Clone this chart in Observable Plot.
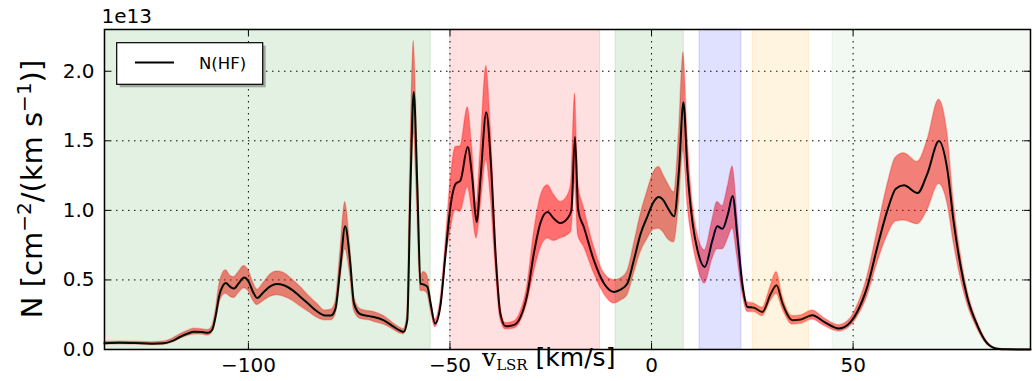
<!DOCTYPE html>
<html>
<head>
<meta charset="utf-8">
<script src="https://cdn.jsdelivr.net/npm/d3@7"></script>
<script src="https://cdn.jsdelivr.net/npm/@observablehq/plot@0.6"></script>
<style>
  body { margin: 0; background: #fff; }
  svg { display: block; }
</style>
</head>
<body>
<div id="chart"></div>
<script>
// HF column density per velocity channel (units of 1e13 cm^-2 / (km s^-1))
const velocity = [
  -135.7, -132, -128, -124, -121, -119, -117, -115, -113.5, -111.5, -110, -109, -108, -107.3, -106.3,
  -105.6, -104.5, -103.6, -102.3, -101.1, -100, -98.8, -97.8, -96.2, -94.5, -93, -91.2, -89, -87.1,
  -85, -83, -81, -79.5, -78.4, -77.2, -76, -74.8, -73.8, -72.2, -70, -68.9, -66.4, -63.9, -62.3,
  -61.5, -60.6, -59.8, -59, -58.1, -57.3, -56.5, -55.6, -54.8, -53.7, -52.3, -51.1, -49.9, -48.6,
  -47.4, -45.6, -44.5, -43.4, -42.4, -41, -39.9, -38.7, -37.5, -36.2, -34.2, -32.5, -30.8, -29.2,
  -27.5, -25.8, -24.2, -22.6, -20.9, -19.9, -19, -18.2, -16.8, -14.3, -11.8, -9.3, -7.7, -6, -4.4,
  -2.7, -1.1, 0.5, 1.8, 3, 3.9, 5.6, 6.8, 7.9, 8.9, 10.2, 11.4, 13.2, 15.1, 16.3, 17.6, 19, 20.1,
  21.3, 22.5, 23.8, 25.4, 27.5, 29.6, 31, 32.5, 35, 37, 39.9, 42.8, 46.5, 49.4, 51, 53.5, 56, 58.5,
  60.6, 62.6, 66, 68.4, 71.3, 73.4, 75, 76.7, 78.3, 80.8, 83.3, 85.8, 88, 94
];
const column = [
  0.045, 0.048, 0.046, 0.042, 0.045, 0.06, 0.09, 0.115, 0.127, 0.125, 0.12, 0.14, 0.26, 0.38, 0.46,
  0.478, 0.45, 0.438, 0.48, 0.517, 0.49, 0.41, 0.37, 0.414, 0.455, 0.47, 0.462, 0.425, 0.378,
  0.325, 0.275, 0.245, 0.245, 0.294, 0.593, 0.885, 0.641, 0.33, 0.253, 0.24, 0.234, 0.21, 0.162, 0.135,
  0.127, 0.21, 1.17, 1.85, 1.17, 0.474, 0.467, 0.45, 0.33, 0.187, 0.33, 0.689, 1.024, 1.19,
  1.215, 1.455, 1.24, 0.916, 1.24, 1.706, 1.36, 0.69, 0.258, 0.167, 0.175, 0.234, 0.4, 0.69,
  0.916, 0.988, 0.94, 0.909, 0.94, 1.0, 1.527, 1.0, 0.88, 0.64, 0.474, 0.414, 0.43, 0.474, 0.641,
  0.833, 0.952, 1.06, 1.096, 1.07, 1.024, 0.957, 1.287, 1.778, 1.29, 0.904, 0.713, 0.593, 0.785, 0.885, 0.868, 0.98, 1.103,
  0.809, 0.474, 0.306, 0.3, 0.27, 0.402, 0.462, 0.33, 0.21, 0.215, 0.246, 0.198, 0.151, 0.198, 0.27, 0.45, 0.737, 1.0,
  1.156, 1.18, 1.125, 1.263, 1.498, 1.287, 0.904, 0.593, 0.378, 0.174, 0.043, 0.005, 0.001, 0
];
const columnLow = [
  0.035, 0.038, 0.036, 0.032, 0.035, 0.05, 0.075, 0.098, 0.108, 0.107, 0.10, 0.12, 0.22, 0.32, 0.39,
  0.40, 0.38, 0.37, 0.41, 0.44, 0.42, 0.35, 0.32, 0.35, 0.38, 0.39, 0.38, 0.35, 0.31,
  0.27, 0.23, 0.21, 0.21, 0.25, 0.50, 0.72, 0.54, 0.28, 0.22, 0.21, 0.20, 0.18, 0.14, 0.115,
  0.11, 0.18, 1.0, 1.55, 1.0, 0.42, 0.42, 0.40, 0.29, 0.16, 0.29, 0.62, 0.85, 1.0,
  0.99, 1.167, 1.0, 0.797, 1.02, 1.36, 1.1, 0.6, 0.22, 0.145, 0.15, 0.2, 0.34, 0.55,
  0.73, 0.797, 0.78, 0.8, 0.82, 0.85, 1.2, 0.82, 0.74, 0.55, 0.40, 0.33, 0.35, 0.39, 0.54,
  0.7, 0.79, 0.86, 0.868, 0.84, 0.8, 0.77, 1.05, 1.43, 1.05, 0.77, 0.6, 0.474, 0.65, 0.72, 0.72, 0.80, 0.87,
  0.66, 0.41, 0.27, 0.27, 0.24, 0.35, 0.4, 0.29, 0.18, 0.185, 0.215, 0.17, 0.13, 0.17, 0.23, 0.38, 0.62, 0.82,
  0.92, 0.928, 0.9, 1.0, 1.19, 1.05, 0.76, 0.51, 0.33, 0.15, 0.035, 0.003, 0, 0
];
const columnHigh = [
  0.055, 0.058, 0.056, 0.052, 0.057, 0.075, 0.108, 0.135, 0.15, 0.145, 0.14, 0.165, 0.30, 0.45, 0.55,
  0.57, 0.53, 0.52, 0.56, 0.60, 0.57, 0.48, 0.43, 0.48, 0.54, 0.56, 0.55, 0.50, 0.45,
  0.385, 0.33, 0.28, 0.285, 0.34, 0.70, 1.06, 0.75, 0.38, 0.29, 0.275, 0.27, 0.24, 0.185, 0.155,
  0.145, 0.24, 1.4, 2.22, 1.4, 0.53, 0.557, 0.53, 0.37, 0.215, 0.37, 0.76, 1.2, 1.455,
  1.46, 1.742, 1.45, 1.048, 1.45, 2.04, 1.6, 0.8, 0.3, 0.19, 0.2, 0.27, 0.46, 0.83,
  1.1, 1.18, 1.11, 1.06, 1.1, 1.2, 1.84, 1.2, 1.02, 0.74, 0.55, 0.498, 0.51, 0.56, 0.75,
  0.97, 1.13, 1.27, 1.311, 1.25, 1.2, 1.13, 1.55, 2.137, 1.55, 1.05, 0.83, 0.713, 0.93, 1.06, 1.03, 1.18, 1.316,
  0.96, 0.55, 0.34, 0.33, 0.30, 0.46, 0.557, 0.38, 0.24, 0.245, 0.28, 0.225, 0.175, 0.225, 0.31, 0.52, 0.85, 1.18,
  1.38, 1.411, 1.348, 1.5, 1.795, 1.55, 1.05, 0.68, 0.43, 0.2, 0.055, 0.008, 0.002, 0
];

// Velocity intervals of the shaded components (km/s)
const bandStart = [-135.7, -50.0, -8.9, 11.9, 25.1, 44.9];
const bandEnd   = [-54.8, -12.8, 8.0, 22.3, 39.1, 94.0];

const xTicks = [-100, -50, 0, 50];
const yTicks = [0, 0.5, 1.0, 1.5, 2.0];

// Styling
const bandFill = ["green", "red", "green", "blue", "orange", "green"];
const bandOpacity = [0.11, 0.12, 0.11, 0.12, 0.12, 0.05];

const W = 1035, H = 381;
const M = {top: 29, right: 5, bottom: 32, left: 104};
const plotW = W - M.left - M.right;
const plotH = H - M.top - M.bottom;
const xDomain = [-135.7, 94];
const yDomain = [0, 2.3];

const rows = velocity.map((v, i) => ({v, n: column[i], lo: columnLow[i], hi: columnHigh[i]}));
const bands = bandStart.map((s, i) => ({x1: s, x2: bandEnd[i]}));

const dotted = {stroke: "black", strokeOpacity: 1, strokeWidth: 1, strokeDasharray: "1.5,4.5"};
const fmtX = d => d < 0 ? "\u2212" + Math.abs(d) : String(d);

const chart = Plot.plot({
  width: W,
  height: H,
  marginTop: M.top,
  marginRight: M.right,
  marginBottom: M.bottom,
  marginLeft: M.left,
  style: {fontFamily: "DejaVu Sans", color: "black", background: "white", overflow: "visible"},
  x: {domain: xDomain},
  y: {domain: yDomain},
  marks: [
    Plot.gridX(xTicks, dotted),
    Plot.gridY(yTicks.filter(d => d > 0), dotted),
    Plot.areaY(rows, {x: "v", y1: "lo", y2: "hi", fill: "red", fillOpacity: 0.5,
      stroke: "red", strokeOpacity: 0.25, strokeWidth: 1.5, curve: "monotone-x"}),
    Plot.lineY(rows, {x: "v", y: "n", stroke: "black", strokeWidth: 2, curve: "monotone-x"}),
    ...bands.map((b, i) => Plot.rect([b], {x1: "x1", x2: "x2", fill: bandFill[i],
      fillOpacity: bandOpacity[i], stroke: bandFill[i], strokeOpacity: bandOpacity[i] * 1.2})),
    // inward tick marks on all four sides
    Plot.tickY(yTicks, {y: d => d, stroke: "black", insetRight: plotW - 6}),
    Plot.tickY(yTicks, {y: d => d, stroke: "black", insetLeft: plotW - 6}),
    Plot.tickX(xTicks, {x: d => d, stroke: "black", insetTop: plotH - 6}),
    Plot.tickX(xTicks, {x: d => d, stroke: "black", insetBottom: plotH - 6}),
    Plot.axisX(xTicks, {tickSize: 0, tickPadding: 8, fontSize: 20, tickFormat: fmtX, label: null}),
    Plot.axisY(yTicks, {tickSize: 0, tickPadding: 10, fontSize: 20, tickFormat: d3.format(".1f"), label: null}),
    Plot.frame({stroke: "black", strokeWidth: 1.5})
  ]
});

document.getElementById("chart").appendChild(chart);

const svg = d3.select(chart);

// scale exponent above the y axis
svg.append("text")
  .attr("x", 101.5).attr("y", 22.5)
  .attr("text-anchor", "start")
  .attr("font-family", "DejaVu Sans").attr("font-size", 20)
  .attr("fill", "black")
  .text("1e13");

// y axis title
const yl = svg.append("text")
  .attr("transform", "translate(42,189) rotate(-90)")
  .attr("text-anchor", "middle")
  .attr("font-family", "DejaVu Sans").attr("font-size", 29)
  .attr("fill", "black");
yl.append("tspan").text("N [cm");
yl.append("tspan").attr("font-size", 20).attr("dy", -11).text("\u22122");
yl.append("tspan").attr("dy", 11).text("/(km s");
yl.append("tspan").attr("font-size", 20).attr("dy", -11).text("\u22121");
yl.append("tspan").attr("dy", 11).text(")]");

// x axis title, placed within the tick label row
const xl = svg.append("text")
  .attr("x", 482).attr("y", 366)
  .attr("text-anchor", "start")
  .attr("fill", "black");
xl.append("tspan").attr("font-family", "DejaVu Serif").attr("font-size", 25).text("v");
xl.append("tspan").attr("font-family", "DejaVu Serif").attr("font-size", 15).attr("dy", 4).text("LSR");
xl.append("tspan").attr("font-family", "DejaVu Sans").attr("font-size", 25).attr("dy", -4).text(" [km/s]");

// legend
const lg = svg.append("g");
lg.append("rect").attr("x", 119.7).attr("y", 45.7).attr("width", 146).attr("height", 41.6)
  .attr("fill", "black").attr("fill-opacity", 0.3);
lg.append("rect").attr("x", 116.7).attr("y", 42.7).attr("width", 146).attr("height", 41.6)
  .attr("fill", "white").attr("stroke", "black").attr("stroke-width", 1.2);
lg.append("line").attr("x1", 135).attr("x2", 174).attr("y1", 62.5).attr("y2", 62.5)
  .attr("stroke", "black").attr("stroke-width", 2);
lg.append("text").attr("x", 199).attr("y", 68.5)
  .attr("text-anchor", "start")
  .attr("font-family", "DejaVu Sans").attr("font-size", 16.5).attr("fill", "black")
  .text("N(HF)");
</script>
</body>
</html>
